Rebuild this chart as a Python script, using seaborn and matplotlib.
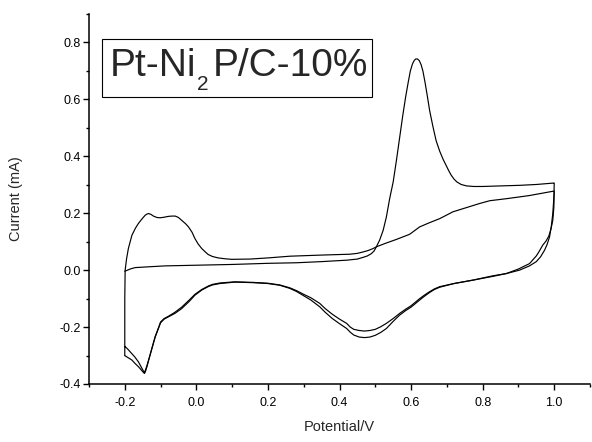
import matplotlib
matplotlib.use("Agg")
import matplotlib.pyplot as plt
from matplotlib.patches import Rectangle
from matplotlib.ticker import MultipleLocator, FormatStrFormatter
import seaborn as sns
import pandas as pd

# ---- data ----
scan1_potential = [
    -0.2, -0.185, -0.171, -0.13, -0.087, 0.006, 0.099, 0.2, 0.28, 0.35, 0.42, 0.45, 0.466, 0.478,
    0.489, 0.497, 0.503, 0.512, 0.522, 0.531, 0.54, 0.55, 0.559, 0.568, 0.577, 0.585, 0.592, 0.598,
    0.604, 0.609, 0.613, 0.618, 0.623, 0.628, 0.633, 0.639, 0.645, 0.652, 0.661, 0.67, 0.68, 0.69,
    0.698, 0.705, 0.712, 0.72, 0.728, 0.74, 0.755, 0.775, 0.8, 0.85, 0.903, 0.95, 0.998, 1.0,
    0.9995, 0.998, 0.996, 0.992, 0.987, 0.98, 0.973, 0.962, 0.95, 0.931, 0.903, 0.866, 0.828, 0.773,
    0.72, 0.68, 0.665, 0.65, 0.637, 0.624, 0.6, 0.585, 0.568, 0.55, 0.531, 0.515, 0.5, 0.485, 0.47,
    0.455, 0.44, 0.43, 0.42, 0.4, 0.38, 0.36, 0.345, 0.32, 0.3, 0.28, 0.261, 0.233, 0.2, 0.159, 0.108,
    0.066, 0.045, 0.033, 0.015, -0.004, -0.02, -0.041, -0.06, -0.078, -0.09, -0.1, -0.106, -0.115,
    -0.124, -0.132, -0.138, -0.142, -0.145, -0.149, -0.153, -0.162, -0.172, -0.18, -0.19, -0.199, -0.2,
]
scan1_current = [
    -0.004, 0.004, 0.009, 0.012, 0.015, 0.0175, 0.02, 0.024, 0.026, 0.03, 0.035, 0.039, 0.045, 0.05,
    0.058, 0.068, 0.082, 0.105, 0.14, 0.187, 0.25, 0.31, 0.385, 0.465, 0.545, 0.61, 0.66, 0.7,
    0.725, 0.737, 0.742, 0.742, 0.736, 0.722, 0.7, 0.66, 0.615, 0.56, 0.505, 0.455, 0.418, 0.388,
    0.368, 0.35, 0.334, 0.32, 0.31, 0.301, 0.296, 0.294, 0.294, 0.296, 0.298, 0.301, 0.306, 0.306,
    0.27, 0.235, 0.199, 0.155, 0.117, 0.09, 0.07, 0.047, 0.03, 0.015, 0.0, -0.012, -0.02, -0.035,
    -0.047, -0.06, -0.068, -0.08, -0.092, -0.105, -0.13, -0.142, -0.158, -0.18, -0.205, -0.219,
    -0.229, -0.235, -0.237, -0.235, -0.228, -0.218, -0.205, -0.188, -0.17, -0.148, -0.129, -0.105,
    -0.09, -0.075, -0.064, -0.053, -0.047, -0.044, -0.042, -0.047, -0.052, -0.058, -0.07, -0.088,
    -0.11, -0.135, -0.152, -0.164, -0.172, -0.185, -0.205, -0.235, -0.275, -0.31, -0.339, -0.355,
    -0.363, -0.358, -0.352, -0.339, -0.327, -0.316, -0.308, -0.301, -0.30,
]
scan2_potential = [
    -0.2, -0.2, -0.199, -0.195, -0.19, -0.18, -0.17, -0.162, -0.152, -0.143, -0.138, -0.134, -0.127,
    -0.12, -0.11, -0.101, -0.09, -0.078, -0.068, -0.059, -0.05, -0.041, -0.03, -0.022, -0.012, -0.004,
    0.005, 0.015, 0.025, 0.033, 0.045, 0.061, 0.08, 0.099, 0.15, 0.2, 0.261, 0.35, 0.429, 0.45, 0.466,
    0.48, 0.494, 0.503, 0.53, 0.559, 0.596, 0.624, 0.65, 0.68, 0.717, 0.745, 0.77, 0.791, 0.82, 0.866,
    0.93, 0.996, 1.0,
    0.9995, 0.999, 0.996, 0.991, 0.985, 0.977, 0.968, 0.958, 0.95, 0.931, 0.9, 0.866, 0.828, 0.773,
    0.72, 0.68, 0.665, 0.65, 0.637, 0.624, 0.6, 0.585, 0.568, 0.55, 0.531, 0.515, 0.5, 0.485, 0.47,
    0.455, 0.44, 0.43, 0.42, 0.4, 0.38, 0.36, 0.345, 0.32, 0.3, 0.28, 0.261, 0.233, 0.2, 0.159, 0.108,
    0.066, 0.045, 0.033, 0.015, -0.004, -0.02, -0.041, -0.06, -0.078, -0.09, -0.1, -0.106, -0.115,
    -0.124, -0.132, -0.138, -0.142, -0.145, -0.149, -0.153, -0.162, -0.172, -0.185, -0.192, -0.199,
]
scan2_current = [
    -0.30, -0.1, 0.0, 0.04, 0.076, 0.123, 0.148, 0.164, 0.18, 0.193, 0.197, 0.199, 0.196,
    0.19, 0.185, 0.184, 0.186, 0.189, 0.19, 0.19, 0.185, 0.175, 0.163, 0.152, 0.133, 0.111,
    0.092, 0.076, 0.064, 0.055, 0.048, 0.043, 0.04, 0.038, 0.039, 0.043, 0.049, 0.053, 0.056, 0.059,
    0.064, 0.069, 0.076, 0.082, 0.095, 0.108, 0.126, 0.152, 0.166, 0.181, 0.205, 0.216, 0.226, 0.234,
    0.244, 0.251, 0.262, 0.277, 0.278,
    0.25, 0.22, 0.175, 0.145, 0.12, 0.102, 0.088, 0.066, 0.05, 0.023, 0.004, -0.012, -0.022, -0.035,
    -0.047, -0.058, -0.066, -0.077, -0.088, -0.1, -0.125, -0.137, -0.152, -0.17, -0.187, -0.199,
    -0.208, -0.212, -0.214, -0.212, -0.208, -0.2, -0.187, -0.172, -0.155, -0.135, -0.117, -0.097,
    -0.085, -0.072, -0.062, -0.052, -0.046, -0.043, -0.041, -0.045, -0.05, -0.056, -0.068, -0.085,
    -0.105, -0.13, -0.148, -0.162, -0.17, -0.182, -0.203, -0.233, -0.273, -0.31, -0.335, -0.35,
    -0.36, -0.352, -0.343, -0.322, -0.305, -0.287, -0.277, -0.269,
]
label_parts = ["Pt-Ni", "2", "P/C-10%"]
x_label = "Potential/V"
y_label = "Current (mA)"

# ---- style ----
sns.set_style("ticks")
plt.rcParams["font.family"] = ["Liberation Sans", "DejaVu Sans"]

W, H = 592, 442
fig = plt.figure(figsize=(W / 100, H / 100), dpi=100)
ax = fig.add_axes([89 / W, 1 - 384 / H, 501 / W, 370 / H])

df1 = pd.DataFrame({"E": scan1_potential, "I": scan1_current})
df2 = pd.DataFrame({"E": scan2_potential, "I": scan2_current})
for df in (df1, df2):
    sns.lineplot(data=df, x="E", y="I", sort=False, estimator=None, color="black",
                 linewidth=0.85, ax=ax)

ax.xaxis.set_minor_locator(MultipleLocator(0.1))
ax.yaxis.set_minor_locator(MultipleLocator(0.1))
ax.xaxis.set_major_formatter(FormatStrFormatter("%.1f"))
ax.yaxis.set_major_formatter(FormatStrFormatter("%.1f"))
ax.set_xticks([-0.2, 0.0, 0.2, 0.4, 0.6, 0.8, 1.0])
ax.set_yticks([-0.4, -0.2, 0.0, 0.2, 0.4, 0.6, 0.8])
ax.set_xlim(-0.3, 1.1)
ax.set_ylim(-0.4, 0.9)

sns.despine(ax=ax)
for s in ("left", "bottom"):
    ax.spines[s].set_linewidth(1.1)
    ax.spines[s].set_color("black")
ax.tick_params(axis="both", which="major", direction="out", length=4, width=1.0,
               colors="black", labelsize=9)
ax.tick_params(axis="both", which="minor", direction="out", length=2.5, width=1.0, colors="black")
ax.tick_params(axis="x", which="major", pad=5)
ax.tick_params(axis="y", which="major", pad=2)

ax.set_xlabel(x_label, fontsize=10.5)
ax.set_ylabel(y_label, fontsize=10.5)
ax.xaxis.set_label_coords(0.5, -0.098)
ax.yaxis.set_label_coords(-0.132, 0.5)

# label box
ax.add_patch(Rectangle((13 / 501, (384 - 97) / 370), 270 / 501, 58 / 370,
                       transform=ax.transAxes, fill=False, edgecolor="black", linewidth=0.8))
t1 = fig.text(110 / W, 1 - 76 / H, label_parts[0], fontsize=28, va="baseline", ha="left")
fig.canvas.draw()
x_end = t1.get_window_extent().x1
t2 = fig.text((x_end + 1) / W, 1 - 90 / H, label_parts[1], fontsize=15, va="baseline", ha="left")
fig.canvas.draw()
x_end = t2.get_window_extent().x1
fig.text((x_end + 4) / W, 1 - 76 / H, label_parts[2], fontsize=28, va="baseline", ha="left")

fig.savefig("out.png", dpi=100)
